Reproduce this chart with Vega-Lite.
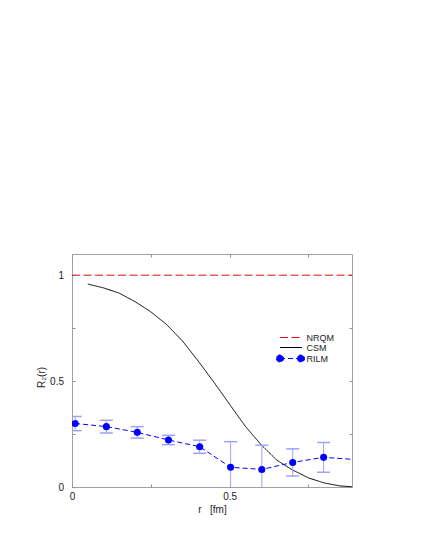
{
  "$schema": "https://vega.github.io/schema/vega-lite/v6.json",
  "width": 280,
  "height": 233,
  "autosize": {"type": "none"},
  "padding": {"left": 72, "top": 254, "right": 73, "bottom": 63},
  "background": "white",
  "config": {
    "view": {"stroke": "#a0a0a0", "strokeWidth": 1},
    "font": "Liberation Sans",
    "axis": {
      "domain": false,
      "grid": false,
      "tickColor": "#909090",
      "tickSize": -3,
      "labelFont": "Liberation Sans",
      "labelFontSize": 10,
      "labelColor": "#222222",
      "labelFlush": false,
      "labelOverlap": false,
      "titleFont": "Liberation Sans",
      "titleFontSize": 10,
      "titleFontWeight": "normal",
      "titleColor": "#222222"
    }
  },
  "data": {
    "values": [
      {"model": "NRQM", "r": 0, "R": 1},
      {"model": "NRQM", "r": 0.9, "R": 1},
      {"model": "CSM", "r": 0.05, "R": 0.958},
      {"model": "CSM", "r": 0.1, "R": 0.94},
      {"model": "CSM", "r": 0.15, "R": 0.915},
      {"model": "CSM", "r": 0.2, "R": 0.875},
      {"model": "CSM", "r": 0.25, "R": 0.827},
      {"model": "CSM", "r": 0.3, "R": 0.767},
      {"model": "CSM", "r": 0.35, "R": 0.69},
      {"model": "CSM", "r": 0.4, "R": 0.595},
      {"model": "CSM", "r": 0.45, "R": 0.495},
      {"model": "CSM", "r": 0.5, "R": 0.39},
      {"model": "CSM", "r": 0.55, "R": 0.286},
      {"model": "CSM", "r": 0.6, "R": 0.199},
      {"model": "CSM", "r": 0.65, "R": 0.126},
      {"model": "CSM", "r": 0.7, "R": 0.08},
      {"model": "CSM", "r": 0.75, "R": 0.043},
      {"model": "CSM", "r": 0.8, "R": 0.019},
      {"model": "CSM", "r": 0.85, "R": 0.005},
      {"model": "CSM", "r": 0.9, "R": 0.0},
      {"model": "RILM", "r": 0.01, "R": 0.3, "lo": 0.266, "hi": 0.333},
      {"model": "RILM", "r": 0.109, "R": 0.285, "lo": 0.255, "hi": 0.315},
      {"model": "RILM", "r": 0.207, "R": 0.258, "lo": 0.231, "hi": 0.285},
      {"model": "RILM", "r": 0.306, "R": 0.222, "lo": 0.2, "hi": 0.244},
      {"model": "RILM", "r": 0.405, "R": 0.19, "lo": 0.159, "hi": 0.221},
      {"model": "RILM", "r": 0.503, "R": 0.093, "lo": -0.028, "hi": 0.214},
      {"model": "RILM", "r": 0.602, "R": 0.083, "lo": -0.031, "hi": 0.197},
      {"model": "RILM", "r": 0.7, "R": 0.116, "lo": 0.052, "hi": 0.18},
      {"model": "RILM", "r": 0.798, "R": 0.14, "lo": 0.07, "hi": 0.21},
      {"model": "RILM", "r": 0.896, "R": 0.13}
    ]
  },
  "layer": [
    {
      "mark": {"type": "line", "strokeWidth": 1, "clip": true},
      "encoding": {
        "x": {
          "field": "r", "type": "quantitative",
          "scale": {"domain": [0, 0.888], "nice": false, "zero": false},
          "axis": {
            "orient": "bottom",
            "values": [0, 0.25, 0.5, 0.75],
            "format": "~g",
            "labelExpr": "datum.value == 0 || datum.value == 0.5 ? datum.label : ''",
            "labelPadding": 7,
            "title": "r\u00a0\u00a0\u00a0[fm]",
            "titleY": 22.5,
            "titleBaseline": "middle"
          }
        },
        "y": {
          "field": "R", "type": "quantitative",
          "scale": {"domain": [0, 1.1], "nice": false},
          "axis": {
            "orient": "left",
            "values": [0, 0.25, 0.5, 0.75, 1],
            "format": "~g",
            "labelExpr": "datum.value == 0 || datum.value == 0.5 || datum.value == 1 ? datum.label : ''",
            "labelPadding": 11.5,
            "title": "R₂(r)",
            "titleX": -31,
            "titleY": 123,
            "titleBaseline": "middle",
            "titleAlign": "center"
          }
        },
        "color": {
          "field": "model", "type": "nominal",
          "scale": {"domain": ["NRQM", "CSM", "RILM"], "range": ["#d81010", "#000000", "#0000ff"]},
          "legend": {
            "orient": "none", "legendX": 214.5, "legendY": 79, "title": null,
            "padding": 0, "symbolSize": 64, "symbolStrokeWidth": 1,
            "labelFont": "Liberation Sans", "labelFontSize": 9, "labelColor": "#222222",
            "labelOffset": 11, "rowPadding": -1,
            "encode": {"symbols": {"update": {
              "shape": {"signal": "datum.value === 'RILM' ? 'M-2.75,0L2.75,0M-3.65,0a0.9,0.9 0 1,0 1.8,0a0.9,0.9 0 1,0 -1.8,0M1.6,0a0.9,0.9 0 1,0 1.8,0a0.9,0.9 0 1,0 -1.8,0' : 'M-2.75,0L2.75,0'"},
              "fill": {"signal": "datum.value === 'RILM' ? '#0000ff' : 'transparent'"}
            }}}
          }
        },
        "strokeDash": {
          "field": "model", "type": "nominal",
          "scale": {"domain": ["NRQM", "CSM", "RILM"], "range": [[8, 3.5], [1, 0], [5, 3]]},
          "legend": {
            "orient": "none", "legendX": 214.5, "legendY": 79, "title": null,
            "padding": 0, "symbolSize": 64, "symbolStrokeWidth": 1,
            "labelFont": "Liberation Sans", "labelFontSize": 9, "labelColor": "#222222",
            "labelOffset": 11, "rowPadding": -1
          }
        }
      }
    },
    {
      "transform": [{"filter": "isValid(datum.lo)"}],
      "mark": {"type": "rule", "color": "#a0a0f8", "strokeWidth": 1, "clip": true},
      "encoding": {
        "x": {"field": "r", "type": "quantitative", "axis": null},
        "y": {"field": "lo", "type": "quantitative", "axis": null},
        "y2": {"field": "hi"}
      }
    },
    {
      "transform": [{"filter": "isValid(datum.lo)"}],
      "mark": {"type": "tick", "orient": "horizontal", "size": 13, "thickness": 1.5, "color": "#a0a0f8", "opacity": 1, "clip": true},
      "encoding": {
        "x": {"field": "r", "type": "quantitative", "axis": null},
        "y": {"field": "lo", "type": "quantitative", "axis": null}
      }
    },
    {
      "transform": [{"filter": "isValid(datum.hi)"}],
      "mark": {"type": "tick", "orient": "horizontal", "size": 13, "thickness": 1.5, "color": "#a0a0f8", "opacity": 1, "clip": true},
      "encoding": {
        "x": {"field": "r", "type": "quantitative", "axis": null},
        "y": {"field": "hi", "type": "quantitative", "axis": null}
      }
    },
    {
      "transform": [{"filter": "isValid(datum.lo)"}],
      "mark": {"type": "point", "filled": true, "size": 50, "color": "#0000ff", "opacity": 1, "clip": true},
      "encoding": {
        "x": {
          "field": "r", "type": "quantitative",
          "axis": {"orient": "top", "values": [0, 0.25, 0.5, 0.75], "labels": false, "title": null}
        },
        "y": {
          "field": "R", "type": "quantitative",
          "axis": {"orient": "right", "values": [0, 0.25, 0.5, 0.75, 1], "labels": false, "title": null}
        }
      }
    }
  ]
}
